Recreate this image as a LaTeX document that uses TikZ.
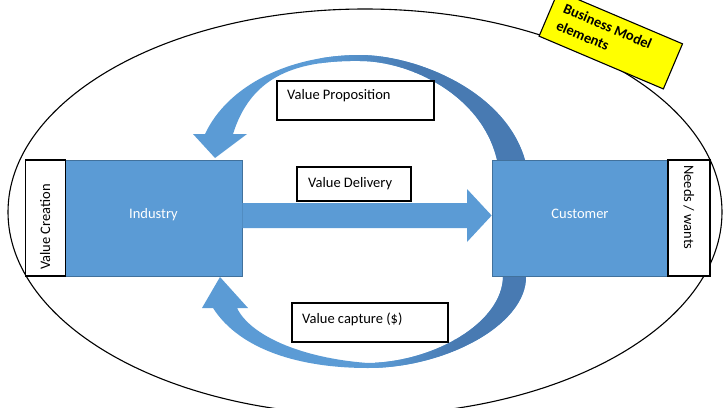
\documentclass[tikz,border=0pt]{standalone}
\usepackage{fontspec}
\setmainfont{Carlito}
\definecolor{officeblue}{RGB}{91,155,213}
\definecolor{arcdark}{RGB}{72,122,178}
\definecolor{officeborder}{RGB}{65,113,156}
\definecolor{labelyellow}{RGB}{255,255,0}
\begin{document}
\begin{tikzpicture}[x=1pt,y=-1pt,
  blk/.style={draw=black, line width=1.1pt, fill=white, inner sep=0pt, rectangle},
  bluebox/.style={draw=officeborder, line width=0.7pt, fill=officeblue, inner sep=0pt, rectangle},
  lbl/.style={font=\fontsize{14.5}{17}\selectfont, inner sep=0pt},
  wlbl/.style={lbl, text=white},
  ylbl/.style={font=\bfseries\fontsize{14.5}{18.3}\selectfont, inner sep=0pt, transform shape, anchor=north west, align=left}]
\useasboundingbox (0,0) rectangle (728,407);
\clip (0,0) rectangle (728,407);

% outer ellipse
\draw[line width=1.1pt] (365,212) ellipse [x radius=357pt, y radius=203pt];

% curved arrow paths
\def\toparrow{(497,160) .. controls (482,95) and (410,61) .. (360,61)
  .. controls (290,60) and (250,80) .. (233,134) -- (247,134) -- (215,158)
  -- (193,134) -- (205,134) .. controls (228,85) and (290,55) .. (360,55)
  .. controls (415,55) and (505,90) .. (525,160) -- cycle}
\def\botarrow{(503,276) .. controls (503,322) and (435,362) .. (368,363)
  .. controls (300,358) and (250,335) .. (237,308) -- (248,308) -- (220,277)
  -- (202,308) -- (213,308) .. controls (240,350) and (300,368) .. (368,368)
  .. controls (445,368) and (527,325) .. (526,276) -- cycle}

\fill[officeblue] \toparrow;
\begin{scope}
  \clip \toparrow;
  \shade[left color=officeblue, right color=arcdark] (320,0) rectangle (415,407);
  \fill[arcdark] (414,0) rectangle (540,407);
\end{scope}

\fill[officeblue] \botarrow;
\begin{scope}
  \clip \botarrow;
  \shade[left color=officeblue, right color=arcdark] (375,0) rectangle (455,407);
  \fill[arcdark] (454,0) rectangle (540,407);
\end{scope}

% boxes
\node[bluebox, minimum width=177pt, minimum height=116pt] (ind) at (153.5,218) {};
\node[bluebox, minimum width=176pt, minimum height=116pt] (cus) at (580,218) {};
\node[blk, minimum width=40pt, minimum height=116pt] (vc) at (45.5,218) {};
\node[blk, minimum width=42pt, minimum height=116pt] (nw) at (689,218) {};

% straight arrow (value delivery)
\fill[officeblue] (ind.east |- 0,203) -- (467,203) -- (467,189) -- (cus.west |- 0,215.5)
  -- (467,242) -- (467,228) -- (ind.east |- 0,228) -- cycle;

\node[wlbl, anchor=base] (indt) at (153.5,218) {Industry};
\node[wlbl, anchor=base] (cust) at (580,218) {Customer};
\node[lbl, rotate=90, anchor=base west] (vct) at (50,270) {Value Creation};
\node[lbl, rotate=-90, anchor=base west] (nwt) at (684,165) {Needs / wants};

% label boxes
\node[blk, minimum width=157pt, minimum height=39pt] (vp) at (355.5,100.5) {};
\node[lbl, anchor=base west] (vpt) at (287,99.5) {Value Proposition};
\node[blk, minimum width=114pt, minimum height=34pt] (vd) at (354,184) {};
\node[lbl, anchor=base west] (vdt) at (308,187) {Value Delivery};
\node[blk, minimum width=156pt, minimum height=39pt] (vcap) at (370,322.5) {};
\node[lbl, anchor=base west] (vcapt) at (302,323) {Value capture (\$)};

% yellow label
\begin{scope}[shift={(610.8,40)}, rotate=-23]
  \node[draw=black, line width=1.1pt, fill=labelyellow, minimum width=135pt, minimum height=49pt, inner sep=0pt, transform shape] (bme) at (0,0) {};
  \node[ylbl] (bmt) at (-55.5,-16.8) {Business Model\\elements};
\end{scope}
\end{tikzpicture}
\end{document}
